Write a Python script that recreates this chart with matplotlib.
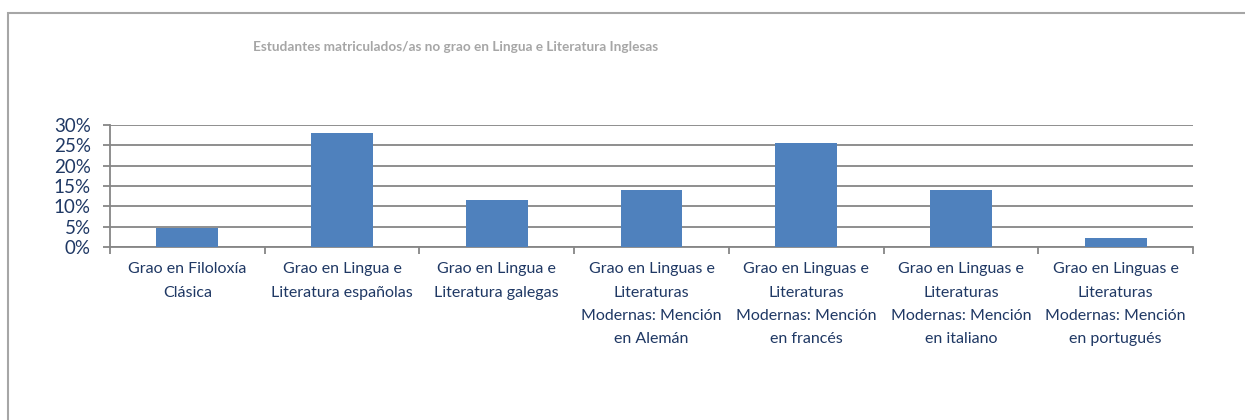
import matplotlib
matplotlib.use("Agg")
import matplotlib.pyplot as plt
import numpy as np
from matplotlib.patches import Rectangle

title = "Estudantes matriculados/as no grao en Lingua e Literatura Inglesas"
categories = [
    "Grao en Filoloxía\nClásica",
    "Grao en Lingua e\nLiteratura españolas",
    "Grao en Lingua e\nLiteratura galegas",
    "Grao en Linguas e\nLiteraturas\nModernas: Mención\nen Alemán",
    "Grao en Linguas e\nLiteraturas\nModernas: Mención\nen francés",
    "Grao en Linguas e\nLiteraturas\nModernas: Mención\nen italiano",
    "Grao en Linguas e\nLiteraturas\nModernas: Mención\nen portugués",
]
shares = [4.7, 27.9, 11.6, 14.0, 25.6, 14.0, 2.3]
yticks = [0, 5, 10, 15, 20, 25, 30]

plt.rcParams['font.family'] = ['Lato', 'DejaVu Sans']
navy = "#1F3864"
grey = "#868686"

fig = plt.figure(figsize=(12.45, 4.2), dpi=100)
ax = fig.add_axes([0.0884, 0.412, 0.8698, 0.2905])

x = np.arange(len(categories))
ax.bar(x, shares, width=0.4, color="#4F81BD", zorder=3)

ax.set_xlim(-0.5, len(categories) - 0.5)
ax.set_ylim(0, 30)
ax.set_yticks(yticks)
ax.set_yticklabels([f"{v}%" for v in yticks], color=navy, fontsize=13.5)
ax.yaxis.grid(True, color=grey, linewidth=1.3, zorder=0)

ax.set_xticks(x)
ax.set_xticklabels(categories, color=navy, fontsize=11.5, linespacing=1.85)
ax.set_xticks(np.arange(len(categories) + 1) - 0.5, minor=True)
ax.tick_params(axis="x", which="major", length=0, pad=11)
ax.tick_params(axis="x", which="minor", length=5, color=grey, width=1.3)
ax.tick_params(axis="y", length=5, color=grey, width=1.3, pad=9)

for side in ["top", "right"]:
    ax.spines[side].set_visible(False)
for side in ["left", "bottom"]:
    ax.spines[side].set_color(grey)
    ax.spines[side].set_linewidth(1.3)

fig.text(253 / 1245, 1 - 47 / 420, title, color="#A6A6A6", fontsize=9.8,
         fontweight="bold", ha="left", va="center")

# chart frame
fig.patches.append(Rectangle((8 / 1245, -0.1), 1.2, 1 - 13 / 420 + 0.1,
                             transform=fig.transFigure, fill=False,
                             edgecolor="#A6A6A6", linewidth=1.5))

fig.savefig("out.png", dpi=100)
